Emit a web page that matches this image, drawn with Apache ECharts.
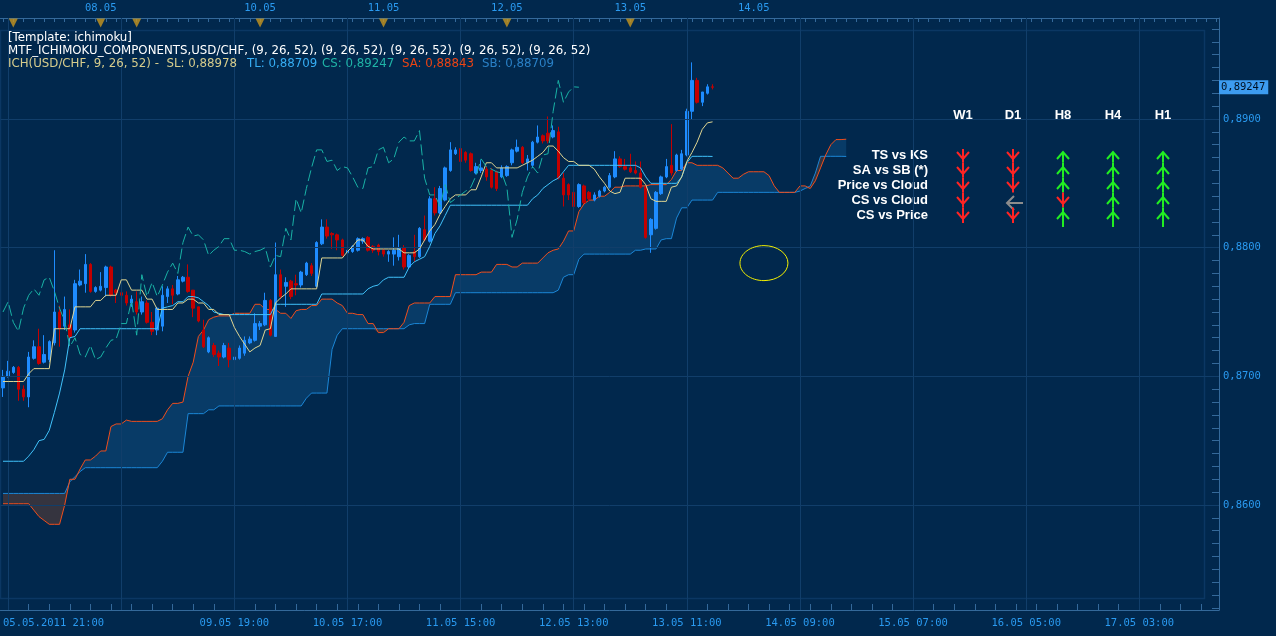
<!DOCTYPE html>
<html><head><meta charset="utf-8">
<script src="https://cdn.jsdelivr.net/npm/echarts@6/dist/echarts.min.js"></script>
<style>html,body{margin:0;padding:0;background:#01284d;}#c{width:1276px;height:636px;}</style>
</head><body><div id="c"></div>
<script>
// ---- price data (USD/CHF H1) ----
const open = [0.8691,0.8700,0.8703,0.8707,0.8690,0.8684,0.8714,0.8723,0.8711,0.8713,
0.8726,0.8750,0.8739,0.8740,0.8736,0.8771,0.8772,0.8787,0.8766,0.8767,
0.8769,0.8785,0.8767,0.8765,0.8763,0.8757,0.8758,0.8750,0.8757,0.8742,
0.8736,0.8739,0.8762,0.8768,0.8764,0.8774,0.8777,0.8767,0.8754,0.8736,
0.8719,0.8724,0.8718,0.8715,0.8722,0.8713,0.8714,0.8718,0.8726,0.8728,
0.8739,0.8740,0.8759,0.8731,0.8779,0.8770,0.8774,0.8772,0.8771,0.8779,
0.8786,0.8770,0.8803,0.8816,0.8811,0.8810,0.8806,0.8796,0.8797,0.8798,
0.8805,0.8808,0.8801,0.8802,0.8798,0.8795,0.8795,0.8793,0.8800,0.8785,
0.8797,0.8793,0.8814,0.8805,0.8838,0.8827,0.8837,0.8860,0.8873,0.8877,
0.8874,0.8873,0.8858,0.8860,0.8861,0.8860,0.8859,0.8855,0.8856,0.8866,
0.8875,0.8878,0.8866,0.8864,0.8882,0.8887,0.8889,0.8886,0.8890,0.8854,
0.8849,0.8843,0.8832,0.8848,0.8843,0.8837,0.8840,0.8844,0.8847,0.8855,
0.8869,0.8863,0.8862,0.8860,0.8858,0.8847,0.8810,0.8815,0.8842,0.8855,
0.8864,0.8860,0.8861,0.8872,0.8906,0.8930,0.8913,0.8920,0.8925];
const high = [0.8705,0.8712,0.8708,0.8708,0.8693,0.8719,0.8728,0.8737,0.8732,0.8728,
0.8798,0.8755,0.8762,0.8752,0.8775,0.8783,0.8795,0.8788,0.8770,0.8781,
0.8786,0.8786,0.8768,0.8767,0.8766,0.8763,0.8766,0.8762,0.8759,0.8750,
0.8754,0.8770,0.8770,0.8771,0.8778,0.8778,0.8787,0.8767,0.8754,0.8744,
0.8731,0.8726,0.8720,0.8726,0.8726,0.8720,0.8724,0.8731,0.8731,0.8749,
0.8743,0.8765,0.8760,0.8804,0.8783,0.8777,0.8775,0.8779,0.8782,0.8789,
0.8788,0.8805,0.8822,0.8822,0.8812,0.8811,0.8807,0.8802,0.8802,0.8808,
0.8808,0.8809,0.8802,0.8803,0.8799,0.8798,0.8808,0.8810,0.8802,0.8795,
0.8810,0.8816,0.8825,0.8840,0.8847,0.8848,0.8863,0.8882,0.8878,0.8878,
0.8875,0.8874,0.8866,0.8868,0.8863,0.8862,0.8860,0.8864,0.8864,0.8877,
0.8884,0.8879,0.8872,0.8883,0.8895,0.8888,0.8902,0.8895,0.8894,0.8858,
0.8850,0.8844,0.8850,0.8849,0.8844,0.8843,0.8845,0.8848,0.8858,0.8875,
0.8871,0.8869,0.8873,0.8867,0.8867,0.8849,0.8823,0.8844,0.8856,0.8869,
0.8896,0.8873,0.8876,0.8908,0.8944,0.8932,0.8921,0.8927,0.8927];
const low = [0.8684,0.8699,0.8702,0.8681,0.8681,0.8676,0.8713,0.8709,0.8710,0.8711,
0.8724,0.8723,0.8736,0.8728,0.8734,0.8770,0.8765,0.8765,0.8765,0.8766,
0.8762,0.8762,0.8757,0.8760,0.8755,0.8754,0.8748,0.8748,0.8741,0.8732,
0.8732,0.8735,0.8757,0.8756,0.8763,0.8773,0.8765,0.8746,0.8742,0.8722,
0.8718,0.8715,0.8708,0.8714,0.8707,0.8712,0.8713,0.8716,0.8725,0.8727,
0.8736,0.8739,0.8731,0.8731,0.8760,0.8754,0.8760,0.8763,0.8769,0.8778,
0.8778,0.8769,0.8802,0.8807,0.8799,0.8798,0.8793,0.8793,0.8796,0.8797,
0.8803,0.8797,0.8796,0.8794,0.8793,0.8789,0.8786,0.8790,0.8783,0.8784,
0.8789,0.8792,0.8805,0.8804,0.8825,0.8826,0.8836,0.8859,0.8872,0.8866,
0.8866,0.8859,0.8857,0.8858,0.8852,0.8846,0.8844,0.8854,0.8855,0.8864,
0.8874,0.8865,0.8860,0.8862,0.8881,0.8881,0.8881,0.8885,0.8853,0.8832,
0.8837,0.8826,0.8831,0.8834,0.8836,0.8836,0.8839,0.8843,0.8846,0.8854,
0.8862,0.8860,0.8858,0.8857,0.8846,0.8807,0.8796,0.8814,0.8841,0.8854,
0.8856,0.8859,0.8860,0.8871,0.8900,0.8912,0.8910,0.8919,0.8923];
const close = [0.8700,0.8704,0.8707,0.8690,0.8684,0.8715,0.8723,0.8710,0.8717,0.8727,
0.8750,0.8737,0.8752,0.8731,0.8772,0.8774,0.8787,0.8766,0.8769,0.8770,
0.8785,0.8763,0.8765,0.8763,0.8757,0.8760,0.8750,0.8758,0.8742,0.8735,
0.8753,0.8763,0.8768,0.8763,0.8775,0.8777,0.8766,0.8753,0.8743,0.8723,
0.8730,0.8717,0.8715,0.8724,0.8713,0.8715,0.8722,0.8728,0.8729,0.8741,
0.8741,0.8759,0.8732,0.8779,0.8762,0.8773,0.8762,0.8771,0.8781,0.8788,
0.8780,0.8804,0.8816,0.8809,0.8810,0.8806,0.8794,0.8798,0.8801,0.8807,
0.8807,0.8798,0.8798,0.8797,0.8795,0.8797,0.8798,0.8800,0.8785,0.8794,
0.8793,0.8815,0.8806,0.8838,0.8827,0.8846,0.8862,0.8876,0.8876,0.8867,
0.8868,0.8860,0.8863,0.8862,0.8855,0.8847,0.8846,0.8862,0.8863,0.8876,
0.8878,0.8866,0.8869,0.8882,0.8886,0.8883,0.8883,0.8891,0.8854,0.8841,
0.8841,0.8832,0.8849,0.8835,0.8838,0.8841,0.8844,0.8847,0.8856,0.8869,
0.8863,0.8861,0.8859,0.8858,0.8847,0.8808,0.8822,0.8843,0.8855,0.8863,
0.8858,0.8872,0.8873,0.8906,0.8930,0.8913,0.8921,0.8925,0.89247];

// ---- Ichimoku lines ----
const tenkan = [0.8696,0.8696,0.8696,0.8696,0.8696,0.8702,0.8706,0.8706,0.8706,0.8706,
0.8737,0.8737,0.8737,0.8737,0.8754,0.8754,0.8754,0.8754,0.8759,0.8759,
0.8763,0.8763,0.8763,0.8775,0.8775,0.8767,0.8767,0.8767,0.8760,0.8760,
0.8752,0.8752,0.8752,0.8752,0.8757,0.8757,0.8760,0.8760,0.8757,0.8757,
0.8752,0.8752,0.8748,0.8748,0.8748,0.8738,0.8731,0.8725,0.8719,0.8722,
0.8724,0.8736,0.8737,0.8757,0.8761,0.8764,0.8768,0.8768,0.8768,0.8768,
0.8768,0.8768,0.8792,0.8792,0.8792,0.8792,0.8792,0.8797,0.8801,0.8806,
0.8806,0.8801,0.8799,0.8799,0.8799,0.8799,0.8799,0.8799,0.8796,0.8796,
0.8796,0.8799,0.8806,0.8813,0.8818,0.8826,0.8832,0.8838,0.8841,0.8841,
0.8841,0.8845,0.8845,0.8855,0.8866,0.8866,0.8862,0.8862,0.8862,0.8862,
0.8862,0.8864,0.8866,0.8868,0.8871,0.8874,0.8879,0.8879,0.8875,0.8870,
0.8867,0.8867,0.8864,0.8864,0.8864,0.8861,0.8855,0.8850,0.8844,0.8842,
0.8843,0.8854,0.8854,0.8854,0.8854,0.8849,0.8838,0.8836,0.8836,0.8836,
0.8847,0.8848,0.8855,0.8867,0.8874,0.8882,0.8892,0.8897,0.88978];
const kijun = [0.8634,0.8634,0.8634,0.8634,0.8634,0.8638,0.8643,0.8650,0.8651,0.8658,
0.8672,0.8687,0.8705,0.8730,0.8731,0.8737,0.8737,0.8737,0.8737,0.8737,
0.8737,0.8737,0.8737,0.8737,0.8737,0.8737,0.8737,0.8737,0.8737,0.8737,
0.8737,0.8753,0.8754,0.8755,0.8758,0.8758,0.8762,0.8762,0.8761,0.8758,
0.8755,0.8750,0.8749,0.8748,0.8748,0.8748,0.8748,0.8748,0.8748,0.8748,
0.8748,0.8748,0.8748,0.8756,0.8756,0.8756,0.8756,0.8756,0.8756,0.8756,
0.8756,0.8756,0.8764,0.8764,0.8764,0.8764,0.8764,0.8764,0.8764,0.8764,
0.8764,0.8768,0.8770,0.8771,0.8775,0.8777,0.8777,0.8777,0.8777,0.8785,
0.8789,0.8791,0.8793,0.8801,0.8811,0.8817,0.8825,0.8833,0.8833,0.8833,
0.8833,0.8833,0.8833,0.8833,0.8833,0.8833,0.8833,0.8833,0.8833,0.8833,
0.8833,0.8833,0.8833,0.8838,0.8841,0.8846,0.8849,0.8852,0.8854,0.8859,
0.8864,0.8864,0.8864,0.8864,0.8864,0.8864,0.8864,0.8864,0.8864,0.8864,
0.8864,0.8864,0.8864,0.8864,0.8862,0.8855,0.8850,0.8850,0.8850,0.8850,
0.8850,0.8850,0.8855,0.8866,0.8871,0.8871,0.8871,0.8871,0.88709];
const senkouA = [0.8601,0.8601,0.8601,0.8601,0.8601,0.8601,0.8596,0.8591,0.8588,0.8585,
0.8585,0.8585,0.8600,0.8620,0.8620,0.8628,0.8635,0.8635,0.8638,0.8642,
0.8642,0.8661,0.8663,0.8663,0.8666,0.8665,0.8665,0.8665,0.8665,0.8665,
0.8665,0.8667,0.8674,0.8679,0.8679,0.8680,0.8700,0.8711,0.8731,0.8736,
0.8744,0.8746,0.8747,0.8747,0.8747,0.8749,0.8749,0.8749,0.8749,0.8756,
0.8756,0.8752,0.8752,0.8752,0.8749,0.8749,0.8745,0.8751,0.8752,0.8752,
0.8755,0.8755,0.8760,0.8760,0.8760,0.8757,0.8755,0.8749,0.8749,0.8748,
0.8748,0.8741,0.8741,0.8734,0.8734,0.8737,0.8737,0.8737,0.8742,0.8755,
0.8757,0.8757,0.8757,0.8757,0.8762,0.8762,0.8762,0.8762,0.8779,0.8779,
0.8779,0.8779,0.8779,0.8781,0.8781,0.8781,0.8787,0.8787,0.8787,0.8785,
0.8785,0.8788,0.8788,0.8788,0.8788,0.8792,0.8796,0.8798,0.8799,0.8805,
0.8813,0.8813,0.8828,0.8834,0.8837,0.8837,0.8840,0.8840,0.8843,0.8847,
0.8847,0.8848,0.8848,0.8848,0.8848,0.8848,0.8849,0.8849,0.8849,0.8849,
0.8853,0.8860,0.8860,0.8866,0.8866,0.8864,0.8864,0.8864,0.8864,0.8864,
0.8862,0.8858,0.8854,0.8854,0.8857,0.8859,0.8859,0.8859,0.8859,0.8856,
0.8848,0.8843,0.8843,0.8843,0.8843,0.8848,0.8848,0.8846,0.8852,0.8862,
0.8872,0.8880,0.8884,0.8884,0.88843];
const senkouB = [0.8609,0.8609,0.8609,0.8609,0.8609,0.8609,0.8609,0.8609,0.8609,0.8609,
0.8609,0.8609,0.8609,0.8618,0.8622,0.8626,0.8629,0.8629,0.8629,0.8629,
0.8629,0.8629,0.8629,0.8629,0.8629,0.8629,0.8629,0.8629,0.8629,0.8629,
0.8629,0.8634,0.8641,0.8641,0.8641,0.8641,0.8671,0.8671,0.8671,0.8671,
0.8674,0.8674,0.8677,0.8677,0.8677,0.8677,0.8677,0.8677,0.8677,0.8677,
0.8677,0.8677,0.8677,0.8677,0.8677,0.8677,0.8677,0.8677,0.8677,0.8683,
0.8687,0.8687,0.8687,0.8687,0.8721,0.8732,0.8737,0.8737,0.8737,0.8737,
0.8737,0.8737,0.8737,0.8737,0.8737,0.8737,0.8737,0.8737,0.8737,0.8740,
0.8741,0.8741,0.8741,0.8756,0.8756,0.8756,0.8756,0.8756,0.8765,0.8765,
0.8765,0.8765,0.8765,0.8765,0.8765,0.8765,0.8765,0.8765,0.8765,0.8765,
0.8765,0.8765,0.8765,0.8765,0.8765,0.8765,0.8765,0.8765,0.8767,0.8777,
0.8779,0.8779,0.8791,0.8795,0.8795,0.8795,0.8795,0.8795,0.8795,0.8795,
0.8795,0.8795,0.8795,0.8798,0.8798,0.8799,0.8799,0.8799,0.8806,0.8807,
0.8807,0.8823,0.8831,0.8831,0.8837,0.8837,0.8837,0.8837,0.8837,0.8843,
0.8843,0.8843,0.8843,0.8843,0.8843,0.8843,0.8843,0.8843,0.8843,0.8843,
0.8843,0.8843,0.8843,0.8843,0.8843,0.8844,0.8846,0.8848,0.8858,0.8871,
0.8871,0.8871,0.8871,0.8871,0.88709];
const chikouShift = 26; // chikou span = close plotted 26 bars back

// ---- axes / labels ----
const barCount = 237;
const bottomLabelBars = [0,45,67,89,111,133,155,177,199,221];
const bottomLabels = ['05.05.2011 21:00','09.05 19:00','10.05 17:00','11.05 15:00','12.05 13:00','13.05 11:00','14.05 09:00','15.05 07:00','16.05 05:00','17.05 03:00'];
const gridBars = [1,23,45,67,89,111,133,155,177,199,221];
const topLabelBars = [19,50,74,98,122,146];
const topLabels = ['08.05','10.05','11.05','12.05','13.05','14.05'];
const dayMarkBars = [2,19,26,50,74,98,122];
const priceTicks = [0.86,0.87,0.88,0.89];
const yMin = 0.85184, yMax = 0.89785;
const annotCenter = [148, 0.8788];

// ---- MTF signal table ----
const signalCols = ['W1','D1','H8','H4','H1'];
const signalRows = ['TS vs KS','SA vs SB (*)','Price vs Cloud','CS vs Cloud','CS vs Price'];
// -1 = down (red), 1 = up (green), 0 = neutral (grey left arrow); one list per column
const signals = [
  [-1,-1,-1,-1,-1],
  [-1,-1,-1, 0,-1],
  [ 1, 1, 1,-1, 1],
  [ 1, 1, 1, 1, 1],
  [ 1, 1, 1, 1, 1]
];

// ---- build ----
const cats = Array.from({length: barCount}, (_, i) => String(i));
const minorPriceTicks = [];
for (let k = 852; k <= 897; k++) minorPriceTicks.push(k / 1000);
const candles = open.map((o, i) => [o, close[i], low[i], high[i]]);
const chikou = close.slice(chikouShift);
const cloudLo = senkouA.map((a, i) => Math.min(a, senkouB[i]));
const cloudBull = senkouA.map((a, i) => Math.max(a - senkouB[i], 0));
const cloudBear = senkouA.map((a, i) => Math.max(senkouB[i] - a, 0));
const signalData = [];
signals.forEach((col, c) => col.forEach((d, r) => signalData.push([c, r, d])));
const fmtPrice = (v, n) => v.toFixed(n).replace('.', ',');
const lastClose = close[close.length - 1];
const lastRow = signalRows.length - 1;

const BG = '#01284d', GRID = '#113e6a', AXIS = '#34699a', LBL = '#2a9af0';
const monoFont = 'DejaVu Sans Mono';
const hdrFont = '11.8px "DejaVu Sans"';

const chart = echarts.init(document.getElementById('c'), null, {renderer: 'canvas'});
const lineS = (name, data, color, z, extra) => Object.assign({
  name, type: 'line', data, symbol: 'none', showSymbol: false, z,
  lineStyle: {color, width: 1}, animation: false, silent: true
}, extra || {});
const hdr = (x, y, text, fill) => ({type: 'text', x, y, z: 20, silent: true,
  style: {text, fill, font: hdrFont, verticalAlign: 'middle', textVerticalAlign: 'middle'}});

chart.setOption({
  backgroundColor: BG,
  animation: false,
  grid: [
    {left: 0, right: 57, top: 18, bottom: 26},
    {left: 938, width: 250, top: 147.5, height: 75}
  ],
  xAxis: [
    {type: 'category', gridIndex: 0, data: cats, position: 'bottom', boundaryGap: true,
     axisLine: {show: true, lineStyle: {color: AXIS}},
     axisTick: {show: true, inside: true, length: 12, alignWithLabel: true,
       interval: (i) => gridBars.includes(i), lineStyle: {color: AXIS}},
     axisLabel: {show: true, interval: (i) => bottomLabelBars.includes(i),
       formatter: (v, i) => bottomLabels[bottomLabelBars.indexOf(i)] || '',
       color: LBL, fontFamily: monoFont, fontSize: 10.5, margin: 8, alignMinLabel: 'left', showMinLabel: true},
     splitLine: {show: false}},
    {type: 'category', gridIndex: 0, data: cats, position: 'top', boundaryGap: true,
     axisLine: {show: true, lineStyle: {color: AXIS}},
     axisTick: {show: true, inside: true, length: 4, alignWithLabel: true,
       interval: (i) => i % 2 === 0, lineStyle: {color: AXIS}},
     axisLabel: {show: true, interval: (i) => topLabelBars.includes(i),
       formatter: (v, i) => topLabels[topLabelBars.indexOf(i)] || '',
       color: LBL, fontFamily: monoFont, fontSize: 10.5, margin: 4},
     splitLine: {show: false}},
    {type: 'category', gridIndex: 0, data: cats, position: 'bottom', boundaryGap: true,
     axisLine: {show: false},
     axisTick: {show: true, inside: true, length: 6, alignWithLabel: true,
       interval: (i) => i % 4 === 1, lineStyle: {color: AXIS}},
     axisLabel: {show: false}, splitLine: {show: false}},
    {type: 'category', gridIndex: 1, data: signalCols, position: 'top',
     axisLine: {show: false}, axisTick: {show: false}, splitLine: {show: false},
     axisLabel: {interval: 0, color: '#ffffff', fontWeight: 'bold', fontSize: 13,
       fontFamily: 'Liberation Sans', margin: 26}}
  ],
  yAxis: [
    {type: 'value', gridIndex: 0, position: 'right', min: yMin, max: yMax, scale: true,
     axisLine: {show: true, lineStyle: {color: AXIS}},
     axisTick: {show: true, inside: true, length: 14, customValues: priceTicks, lineStyle: {color: AXIS}},
     axisLabel: {show: true, customValues: priceTicks, formatter: (v) => fmtPrice(v, 4),
       color: LBL, fontFamily: monoFont, fontSize: 10.5, margin: 4},
     splitLine: {show: false}},
    {type: 'value', gridIndex: 0, position: 'right', min: yMin, max: yMax, scale: true,
     axisLine: {show: false},
     axisTick: {show: true, inside: true, length: 7, customValues: minorPriceTicks, lineStyle: {color: AXIS}},
     // last price tag
     axisLabel: {show: true, customValues: [lastClose], formatter: () => fmtPrice(lastClose, 5),
       color: '#001020', backgroundColor: '#3d9cf0', padding: [2, 3, 1, 2],
       fontFamily: monoFont, fontSize: 10.5, margin: 0},
     splitLine: {show: false}},
    {type: 'category', gridIndex: 1, data: signalRows, inverse: true,
     axisLine: {show: false}, axisTick: {show: false}, splitLine: {show: false},
     axisLabel: {interval: 0, color: '#ffffff', fontWeight: 'bold', fontSize: 13,
       fontFamily: 'Liberation Sans', margin: 10}}
  ],
  graphic: [
    {type: 'rect', z: 0, silent: true, shape: {x: 0.5, y: 30.5, width: 1204, height: 568},
     style: {fill: null, stroke: '#0b3763', lineWidth: 1.5}},
    hdr(8, 38, '[Template: ichimoku]', '#ffffff'),
    hdr(8, 51, 'MTF_ICHIMOKU_COMPONENTS,USD/CHF, (9, 26, 52), (9, 26, 52), (9, 26, 52), (9, 26, 52), (9, 26, 52)', '#ffffff'),
    hdr(8, 64, 'ICH(USD/CHF, 9, 26, 52) -  SL: ' + fmtPrice(tenkan[tenkan.length-1], 5), '#d6cc8c'),
    hdr(247, 64, 'TL: ' + fmtPrice(kijun[kijun.length-1], 5), '#36aef4'),
    hdr(322, 64, 'CS: ' + fmtPrice(lastClose, 5), '#1fb3a6'),
    hdr(402, 64, 'SA: ' + fmtPrice(senkouA[senkouA.length-1], 5), '#ec4414'),
    hdr(482, 64, 'SB: ' + fmtPrice(senkouB[senkouB.length-1], 5), '#2a80c6')
  ],
  series: [
    // grid lines through the axes' scales
    {type: 'line', data: cloudLo.map(() => null), symbol: 'none', z: 1, silent: true,
     markLine: {symbol: ['none', 'none'], silent: true, animation: false, label: {show: false},
       lineStyle: {color: GRID, type: 'solid', width: 1},
       data: gridBars.map(b => ({xAxis: b})).concat(priceTicks.map(v => ({yAxis: v})))}},
    // cloud
    lineS('cloudLoBull', cloudLo, 'rgba(0,0,0,0)', 2, {stack: 'bull', lineStyle: {opacity: 0}}),
    lineS('cloudBull', cloudBull, 'rgba(0,0,0,0)', 2, {stack: 'bull', lineStyle: {opacity: 0},
      areaStyle: {color: '#083b67', opacity: 1}}),
    lineS('cloudLoBear', cloudLo, 'rgba(0,0,0,0)', 2, {stack: 'bear', lineStyle: {opacity: 0}}),
    lineS('cloudBear', cloudBear, 'rgba(0,0,0,0)', 2, {stack: 'bear', lineStyle: {opacity: 0},
      areaStyle: {color: '#35343f', opacity: 1}}),
    lineS('SB', senkouB, '#1b86d6', 3),
    lineS('SA', senkouA, '#f04e1c', 3),
    {type: 'candlestick', data: candles, barWidth: 3, z: 4, silent: true,
     itemStyle: {color: '#1e8cff', color0: '#c40000', borderColor: '#1e8cff', borderColor0: '#c40000', borderWidth: 1}},
    lineS('Kijun', kijun, '#40c2fb', 5),
    lineS('Tenkan', tenkan, '#e0d692', 5),
    lineS('Chikou', chikou, '#19b2a6', 5, {lineStyle: {color: '#19b2a6', width: 1, type: [11, 4]}}),
    // day separators on the top axis
    {type: 'scatter', data: dayMarkBars.map(b => [b, yMax]), symbol: 'triangle', symbolRotate: 180,
     symbolSize: [9, 9], symbolOffset: [0, 5], clip: false, z: 10, silent: true,
     itemStyle: {color: '#c8961e'}},
    // hand-drawn ellipse annotation
    {type: 'custom', data: [annotCenter], clip: false, z: 10, silent: true,
     renderItem: (params, api) => {
       const p = api.coord([api.value(0), api.value(1)]);
       return {type: 'ellipse', shape: {cx: p[0], cy: p[1], rx: 24, ry: 17.5},
         style: {stroke: '#f4f000', fill: null, lineWidth: 1}};
     }},
    // MTF signal arrows
    {type: 'custom', xAxisIndex: 3, yAxisIndex: 2, data: signalData, z: 10, silent: true, clip: false,
     renderItem: (params, api) => {
       const p = api.coord([api.value(0), api.value(1)]);
       const x = Math.round(p[0]), y = Math.round(p[1]);
       const r = api.value(1), d = api.value(2);
       let col, shaft, head;
       if (d < 0) {
         col = '#ff2424';
         shaft = [[x, r === 0 ? y - 6 : y - 7.5], [x, r === lastRow ? y + 8 : y + 7.5]];
         head = [[x - 6, y - 3], [x, y + 4], [x + 6, y - 3]];
       } else if (d > 0) {
         col = '#22ee22';
         shaft = [[x, r === 0 ? y - 3 : y - 7.5], [x, r === lastRow ? y + 12 : y + 7.5]];
         head = [[x - 6, y + 4], [x, y - 3], [x + 6, y + 4]];
       } else {
         col = '#8c8c8c';
         shaft = [[x - 6, y + 3], [x + 10, y + 3]];
         head = [[x + 1, y - 4], [x - 6, y + 3], [x + 1, y + 10]];
       }
       return {type: 'group', children: [
         {type: 'polyline', shape: {points: shaft}, style: {stroke: col, lineWidth: 2, fill: null}},
         {type: 'polyline', shape: {points: head}, style: {stroke: col, lineWidth: 2, fill: null}}
       ]};
     }}
  ]
});
</script></body></html>
